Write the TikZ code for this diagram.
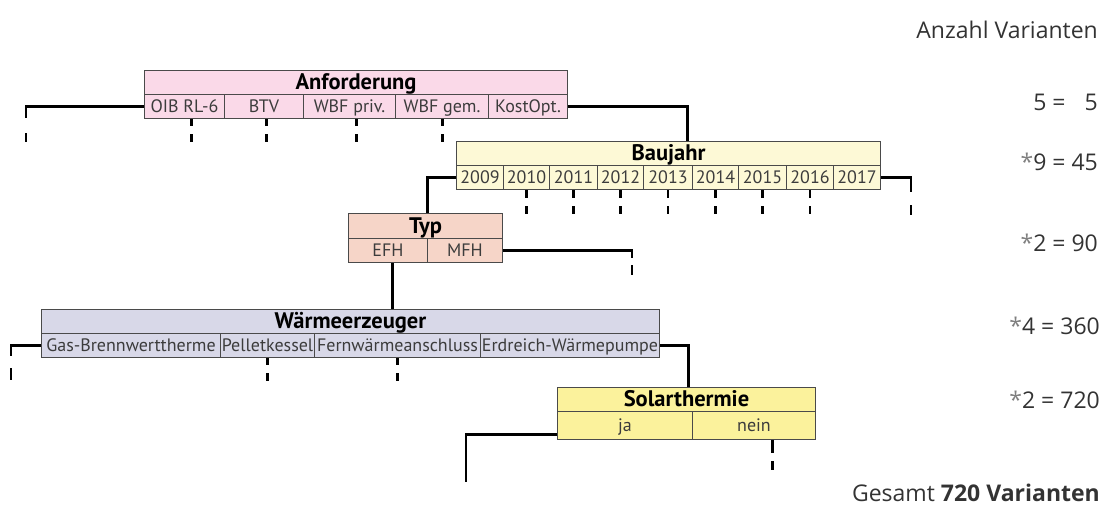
\documentclass[tikz,border=0pt]{standalone}
\usepackage{fontspec}
\setmainfont{PT Sans}
\newfontfamily\rfont{Open Sans}
\definecolor{anfc}{HTML}{FAD9E8}
\definecolor{bauc}{HTML}{FDF9D6}
\definecolor{typc}{HTML}{F6D5C8}
\definecolor{wrmc}{HTML}{D8D8E8}
\definecolor{solc}{HTML}{FBF29C}
\definecolor{bordc}{HTML}{4A4A4A}
\definecolor{labc}{HTML}{3C3C3C}
\definecolor{rtxt}{HTML}{333333}
\definecolor{astc}{HTML}{808080}
\begin{document}
\begin{tikzpicture}[x=1pt,y=-1pt,
  ttl/.style={draw=bordc, line width=1pt, inner sep=0pt, anchor=north west,
    minimum height=24pt, text height=17pt, text depth=3pt,
    font=\bfseries\fontsize{22.5}{22.5}\selectfont, text=black},
  cell/.style={draw=bordc, line width=1pt, inner sep=0pt, anchor=north west,
    minimum height=24pt, text height=15pt, text depth=3pt,
    font=\fontsize{18}{18}\selectfont, text=labc},
  conn/.style={line width=2.8pt, black, line join=miter},
  tickA/.style={line width=2.8pt, black, dash pattern=on 7pt off 8pt on 8pt off 40pt},
  tickB/.style={line width=2.8pt, black, dash pattern=on 8pt off 8pt on 8pt off 40pt},
  rt/.style={anchor=east, font=\rfont\fontsize{23}{23}\selectfont, text=rtxt, inner sep=0pt}
]
\useasboundingbox (0,0) rectangle (1110,506);

% ---------- Anforderung ----------
\node[ttl, fill=anfc, minimum width=423pt] (at) at (144,70) {Anforderung};
\node[cell, fill=anfc, minimum width=80pt] (a1) at (144,94) {OIB RL-6};
\node[cell, fill=anfc, minimum width=79pt] (a2) at (224,94) {BTV};
\node[cell, fill=anfc, minimum width=92pt] (a3) at (303,94) {WBF priv.};
\node[cell, fill=anfc, minimum width=93pt] (a4) at (395,94) {WBF gem.};
\node[cell, fill=anfc, minimum width=79pt] (a5) at (488,94) {KostOpt.};

% ---------- Baujahr ----------
\node[ttl, fill=bauc, minimum width=424pt] (bt) at (456,141) {Baujahr};
\node[cell, fill=bauc, minimum width=47pt] (b1) at (456,165) {2009};
\node[cell, fill=bauc, minimum width=46pt] (b2) at (503,165) {2010};
\node[cell, fill=bauc, minimum width=48pt] (b3) at (549,165) {2011};
\node[cell, fill=bauc, minimum width=46pt] (b4) at (597,165) {2012};
\node[cell, fill=bauc, minimum width=49pt] (b5) at (643,165) {2013};
\node[cell, fill=bauc, minimum width=46pt] (b6) at (692,165) {2014};
\node[cell, fill=bauc, minimum width=48pt] (b7) at (738,165) {2015};
\node[cell, fill=bauc, minimum width=47pt] (b8) at (786,165) {2016};
\node[cell, fill=bauc, minimum width=47pt] (b9) at (833,165) {2017};

% ---------- Typ ----------
\node[ttl, fill=typc, minimum width=154pt, minimum height=25pt] (tt) at (348,213) {Typ};
\node[cell, fill=typc, minimum width=79pt] (t1) at (348,238) {EFH};
\node[cell, fill=typc, minimum width=75pt] (t2) at (427,238) {MFH};

% ---------- Waermeerzeuger ----------
\node[ttl, fill=wrmc, minimum width=618pt] (wt) at (41,309) {Wärmeerzeuger};
\node[cell, fill=wrmc, minimum width=179pt] (w1) at (41,333) {Gas-Brennwerttherme};
\node[cell, fill=wrmc, minimum width=94pt] (w2) at (220,333) {Pelletkessel};
\node[cell, fill=wrmc, minimum width=166pt] (w3) at (314,333) {Fernwärmeanschluss};
\node[cell, fill=wrmc, minimum width=179pt] (w4) at (480,333) {Erdreich-Wärmepumpe};

% ---------- Solarthermie ----------
\node[ttl, fill=solc, minimum width=258pt] (st) at (557,387) {Solarthermie};
\node[cell, fill=solc, minimum width=135pt, minimum height=28pt] (s1) at (557,411) {ja};
\node[cell, fill=solc, minimum width=123pt, minimum height=28pt] (s2) at (692,411) {nein};

% ---------- connectors ----------
\coordinate (la) at (26,118);
\draw[conn] (a1.west) -| (la);
\draw[conn] (la) ++(0,15) -- ++(0,9);
\draw[tickA] ([xshift=7pt]a1.south) -- ++(0,23);
\draw[tickA] ([xshift=2.5pt]a2.south) -- ++(0,23);
\draw[tickA] ([xshift=7pt]a3.south) -- ++(0,23);
\draw[tickA] ([xshift=0.5pt]a4.south) -- ++(0,23);
\draw[conn] (a5.east) -| ([xshift=19pt]bt.north);

\draw[conn] (b1.west) -| ([xshift=2pt]tt.north);
\coordinate (lb) at (911,192);
\draw[conn] (b9.east) -| (lb);
\draw[conn] (lb) ++(0,13) -- ++(0,10);
\foreach \n in {b2,b3,b4,b5,b6,b7,b8}
  \draw[tickB] (\n.south) -- ++(0,24);

\coordinate (lt) at (632,258);
\draw[conn] (t2.east) -| (lt);
\draw[conn] (lt) ++(0,7) -- ++(0,10);
\draw[conn] ([xshift=4.5pt]t1.south) -- ([xshift=4.5pt]t1.south |- wt.north);

\coordinate (lw) at (11,356);
\draw[conn] (w1.west) -| (lw);
\draw[conn] (lw) ++(0,12) -- ++(0,12);
\draw[tickA] (w2.south) -- ++(0,24);
\draw[tickA] (w3.south) -- ++(0,24);
\draw[conn] (w4.east) -| ([xshift=2pt]st.north);

\coordinate (ls) at (466,482);
\draw[conn] ([yshift=-9pt]s1.west) -| (ls);
\draw[line width=2.8pt, dash pattern=on 13pt off 8pt on 9pt off 40pt] ([xshift=18.5pt]s2.south) -- ++(0,30);

% ---------- right column ----------
\node[rt] (r0) at (1098,30) {Anzahl Varianten};
\node[rt] (r1) at (1098,102) {5 = \hphantom{4}5};
\node[rt] (r2) at (1098,162) {\textcolor{astc}{*}9 = 45};
\node[rt] (r3) at (1098,243) {\textcolor{astc}{*}2 = 90};
\node[rt] (r4) at (1100,326) {\textcolor{astc}{*}4 = 360};
\node[rt] (r5) at (1100,400) {\textcolor{astc}{*}2 = 720};
\node[rt] (r6) at (1100,493) {Gesamt \textbf{720 Varianten}};
\end{tikzpicture}
\end{document}
